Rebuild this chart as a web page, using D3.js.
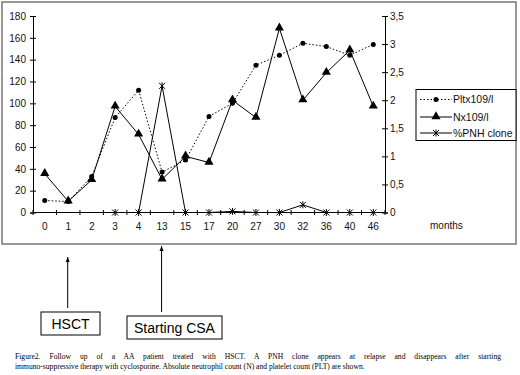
<!DOCTYPE html>
<html>
<head>
<meta charset="utf-8">
<script src="https://cdn.jsdelivr.net/npm/d3@7"></script>
<style>
  body { margin: 0; background: #fff; }
  svg { display: block; font-family: 'Liberation Sans', Arial, sans-serif; }
</style>
</head>
<body>
<div id="chart"></div>
<script>
const months = ['0', '1', '2', '3', '4', '13', '15', '17', '20', '27', '30', '32', '36', '40', '46'];
const pltValues = [11, 10, 33, 87, 112, 37, 48, 88, 100, 135, 144, 155, 152, 144, 154];
const nValues = [0.69, 0.2, 0.58, 1.89, 1.39, 0.59, 1.0, 0.89, 2.0, 1.69, 3.28, 2.0, 2.49, 2.89, 1.89];
const pnhValues = [null, null, null, 0, 0, 116, 0, 0, 1, 0, 0, 7, 0, 0, 0];
const leftTicks = [0, 20, 40, 60, 80, 100, 120, 140, 160, 180];
const rightTicks = [0, 0.5, 1, 1.5, 2, 2.5, 3, 3.5];
const seriesNames = ['Pltx109/l', 'Nx109/l', '%PNH clone'];
const events = [
  { month: '1', label: 'HSCT' },
  { month: '13', label: 'Starting CSA' }
];
const captionLines = [
  'Figure2. Follow up of a AA patient treated with HSCT. A PNH clone appears at relapse and disappears after starting',
  'immuno-suppressive therapy with cyclosporine. Absolute neutrophil count (N) and platelet count (PLT) are shown.'
];

const width = 520, height = 375;
const plot = { left: 33, right: 385, top: 16, bottom: 212.5 };

const svg = d3.select('#chart').append('svg')
  .attr('width', width)
  .attr('height', height);

svg.append('defs').append('marker')
  .attr('id', 'arrow')
  .attr('viewBox', '0 0 10 10')
  .attr('refX', 10).attr('refY', 5)
  .attr('markerWidth', 5).attr('markerHeight', 5)
  .attr('orient', 'auto')
  .append('path')
  .attr('d', 'M0,1L10,5L0,9Z')
  .attr('fill', '#000');

// outer chart frame
svg.append('rect')
  .attr('x', 2).attr('y', 2)
  .attr('width', 514).attr('height', 242)
  .attr('fill', 'none')
  .attr('stroke', '#777')
  .attr('stroke-width', 1.5);

const x = d3.scaleBand().domain(months).range([plot.left, plot.right]).padding(0);
const yLeft = d3.scaleLinear().domain([0, 180]).range([plot.bottom, plot.top]);
const yRight = d3.scaleLinear().domain([0, 3.5]).range([plot.bottom, plot.top]);
const cx = m => x(m) + x.bandwidth() / 2;

// left axis
const leftAxis = svg.append('g')
  .attr('transform', `translate(${plot.left},0)`)
  .call(d3.axisLeft(yLeft).tickValues(leftTicks).tickSize(3).tickPadding(4));
leftAxis.selectAll('.tick line').attr('x1', 3);

// right axis
const rightAxis = svg.append('g')
  .attr('transform', `translate(${plot.right},0)`)
  .call(d3.axisRight(yRight).tickValues(rightTicks).tickSize(3).tickPadding(2)
    .tickFormat(d => String(d).replace('.', ',')));
rightAxis.selectAll('.tick line').attr('x1', -3);

// bottom axis, ticks on category boundaries
const bottomAxis = svg.append('g')
  .attr('transform', `translate(0,${plot.bottom})`)
  .call(d3.axisBottom(x).tickSize(0).tickPadding(10));
bottomAxis.select('.domain').remove();
bottomAxis.append('line')
  .attr('x1', plot.left).attr('x2', plot.right)
  .attr('stroke', '#000');
bottomAxis.selectAll('.edge')
  .data(months.map(m => x(m)).concat([plot.right]))
  .join('line')
  .attr('class', 'edge')
  .attr('x1', d => d).attr('x2', d => d)
  .attr('y1', -2.5).attr('y2', 2.5)
  .attr('stroke', '#000');

svg.selectAll('.domain').attr('stroke', '#000');
svg.selectAll('.tick line').attr('stroke', '#000');
svg.selectAll('.tick text')
  .attr('font-size', 10)
  .attr('font-family', "'Liberation Sans', Arial, sans-serif")
  .attr('fill', '#111');

svg.append('text')
  .attr('x', 430).attr('y', 229)
  .attr('font-size', 10)
  .attr('fill', '#111')
  .text('months');

// series
const pltPts = months.map((m, i) => [cx(m), yLeft(pltValues[i])]);
const nPts = months.map((m, i) => [cx(m), yRight(nValues[i])]);
const pnhPts = months.map((m, i) => pnhValues[i] === null ? null : [cx(m), yLeft(pnhValues[i])]).filter(d => d);

const line = d3.line();
const star = 'M-3,-3L3,3M-3,3L3,-3M0,-3.5L0,3.5';
const tri = d3.symbol(d3.symbolTriangle, 36)();

svg.append('path')
  .attr('d', line(pltPts))
  .attr('fill', 'none')
  .attr('stroke', '#000')
  .attr('stroke-width', 1)
  .attr('stroke-dasharray', '1.5,2');

svg.append('path')
  .attr('d', line(nPts))
  .attr('fill', 'none')
  .attr('stroke', '#000')
  .attr('stroke-width', 1);

svg.append('path')
  .attr('d', line(pnhPts))
  .attr('fill', 'none')
  .attr('stroke', '#000')
  .attr('stroke-width', 1);

svg.selectAll('.plt-dot')
  .data(pltPts)
  .join('circle')
  .attr('class', 'plt-dot')
  .attr('cx', d => d[0]).attr('cy', d => d[1])
  .attr('r', 2.5)
  .attr('fill', '#000');

svg.selectAll('.n-tri')
  .data(nPts)
  .join('path')
  .attr('class', 'n-tri')
  .attr('d', tri)
  .attr('transform', d => `translate(${d[0]},${d[1] - 0.5})`)
  .attr('fill', '#000');

svg.selectAll('.pnh-star')
  .data(pnhPts)
  .join('path')
  .attr('class', 'pnh-star')
  .attr('d', star)
  .attr('transform', d => `translate(${d[0]},${d[1]})`)
  .attr('stroke', '#000')
  .attr('fill', 'none');

// legend
const legend = svg.append('g').attr('transform', 'translate(416,89.5)');
legend.append('rect')
  .attr('width', 100).attr('height', 51)
  .attr('fill', '#fff')
  .attr('stroke', '#000');

const legendRows = legend.selectAll('.row')
  .data(seriesNames)
  .join('g')
  .attr('class', 'row')
  .attr('transform', (d, i) => `translate(0,${[10, 27.5, 43.5][i]})`);

legendRows.append('line')
  .attr('x1', 4).attr('x2', 36)
  .attr('stroke', '#000')
  .attr('stroke-dasharray', (d, i) => i === 0 ? '1.5,2' : null);

legendRows.filter((d, i) => i === 0).append('circle')
  .attr('cx', 20).attr('r', 2.5).attr('fill', '#000');
legendRows.filter((d, i) => i === 1).append('path')
  .attr('d', tri).attr('transform', 'translate(20,-0.5)').attr('fill', '#000');
legendRows.filter((d, i) => i === 2).append('path')
  .attr('d', star).attr('transform', 'translate(20,0)').attr('stroke', '#000');

legendRows.append('text')
  .attr('x', 37).attr('dy', '0.35em')
  .attr('font-size', 10.5)
  .attr('fill', '#111')
  .text(d => d);

// event annotations below chart
const eventBoxes = [
  { x: 41, y: 312, w: 59, h: 23, arrowTop: 257 },
  { x: 127, y: 316, w: 95, h: 23, arrowTop: 246 }
];

events.forEach((e, i) => {
  const b = eventBoxes[i];
  svg.append('line')
    .attr('x1', cx(e.month) - 0.5).attr('x2', cx(e.month) - 0.5)
    .attr('y1', b.y - 4).attr('y2', b.arrowTop)
    .attr('stroke', '#000')
    .attr('marker-end', 'url(#arrow)');
  svg.append('rect')
    .attr('x', b.x).attr('y', b.y)
    .attr('width', b.w).attr('height', b.h)
    .attr('fill', '#fff')
    .attr('stroke', '#000');
  svg.append('text')
    .attr('x', b.x + b.w / 2).attr('y', b.y + b.h / 2)
    .attr('dy', '0.36em')
    .attr('text-anchor', 'middle')
    .attr('font-size', 14)
    .attr('fill', '#000')
    .text(e.label);
});

// figure caption, first line justified by widening word gaps
const caption = svg.selectAll('.caption')
  .data(captionLines)
  .join('text')
  .attr('class', 'caption')
  .attr('x', 15)
  .attr('y', (d, i) => 359 + i * 10)
  .attr('font-family', "'Liberation Serif', 'Times New Roman', serif")
  .attr('font-size', 7.6)
  .attr('fill', '#000')
  .text(d => d);

caption.filter((d, i) => i === 0).each(function(d) {
  const natural = this.getComputedTextLength();
  const gaps = d.split(' ').length - 1;
  const extra = (486 - natural) / gaps;
  if (extra > 0) d3.select(this).attr('word-spacing', extra);
});
</script>
</body>
</html>
